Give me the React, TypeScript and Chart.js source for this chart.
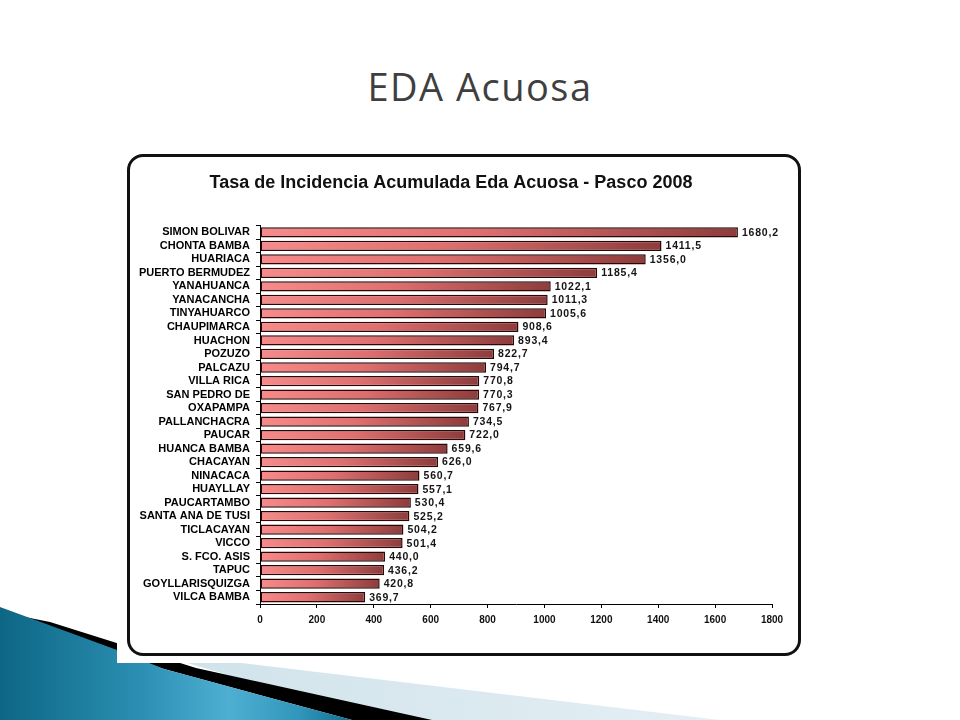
import React, { useEffect, useRef } from "react";
import { Chart, registerables } from "chart.js";

Chart.register(...registerables);

const slideTitle = "EDA Acuosa";
const chartTitle = "Tasa de Incidencia Acumulada Eda Acuosa - Pasco 2008";

const districts = [
  "SIMON BOLIVAR",
  "CHONTA BAMBA",
  "HUARIACA",
  "PUERTO BERMUDEZ",
  "YANAHUANCA",
  "YANACANCHA",
  "TINYAHUARCO",
  "CHAUPIMARCA",
  "HUACHON",
  "POZUZO",
  "PALCAZU",
  "VILLA RICA",
  "SAN PEDRO DE",
  "OXAPAMPA",
  "PALLANCHACRA",
  "PAUCAR",
  "HUANCA BAMBA",
  "CHACAYAN",
  "NINACACA",
  "HUAYLLAY",
  "PAUCARTAMBO",
  "SANTA ANA DE TUSI",
  "TICLACAYAN",
  "VICCO",
  "S. FCO. ASIS",
  "TAPUC",
  "GOYLLARISQUIZGA",
  "VILCA BAMBA",
];

const incidence = [
  1680.2, 1411.5, 1356.0, 1185.4, 1022.1, 1011.3, 1005.6, 908.6, 893.4, 822.7,
  794.7, 770.8, 770.3, 767.9, 734.5, 722.0, 659.6, 626.0, 560.7, 557.1, 530.4,
  525.2, 504.2, 501.4, 440.0, 436.2, 420.8, 369.7,
];

const xMin = 0;
const xMax = 1800;
const xStep = 200;

const fmt = (v: number) => v.toFixed(1).replace(".", ",");

const valueLabels = {
  id: "valueLabels",
  afterDatasetsDraw(chart: any) {
    const ctx = chart.ctx as CanvasRenderingContext2D;
    const meta = chart.getDatasetMeta(0);
    ctx.save();
    ctx.font = "bold 10.5px 'Liberation Sans', Arial, sans-serif";
    (ctx as any).letterSpacing = "0.8px";
    ctx.fillStyle = "#151515";
    ctx.textAlign = "left";
    ctx.textBaseline = "middle";
    meta.data.forEach((bar: any, i: number) => {
      ctx.fillText(fmt(incidence[i]), bar.x + 4, bar.y + 0.5);
    });
    ctx.restore();
  },
};

function BarChart() {
  const ref = useRef<HTMLCanvasElement | null>(null);
  useEffect(() => {
    if (!ref.current) return;
    const chart = new Chart(ref.current, {
      type: "bar",
      data: {
        labels: districts,
        datasets: [
          {
            data: incidence,
            backgroundColor: (c: any) => {
              const ch = c.chart;
              const xs = ch.scales && ch.scales.x;
              if (!xs || c.raw == null) return "#d86a6a";
              const x0 = xs.getPixelForValue(0);
              const x1 = xs.getPixelForValue(c.raw);
              if (!isFinite(x0) || !isFinite(x1) || x1 <= x0) return "#d86a6a";
              const g = ch.ctx.createLinearGradient(x0, 0, x1, 0);
              g.addColorStop(0, "#f78a8a");
              g.addColorStop(0.45, "#e07070");
              g.addColorStop(1, "#8e3c3c");
              return g;
            },
            borderColor: "#2a0808",
            borderWidth: 1.5,
            borderSkipped: false,
            barPercentage: 0.76,
            categoryPercentage: 1,
          },
        ],
      },
      options: {
        indexAxis: "y",
        animation: false,
        responsive: false,
        devicePixelRatio: 1,
        layout: { padding: { left: 0, right: 26, top: 0, bottom: 0 } },
        plugins: {
          legend: { display: false },
          tooltip: { enabled: false },
          title: {
            display: true,
            text: chartTitle,
            color: "#111",
            font: { family: "'Liberation Sans Narrow', 'Liberation Sans', Arial, sans-serif", size: 18, weight: "bold" },
            padding: { top: 15, bottom: 32 },
          },
        },
        scales: {
          x: {
            type: "linear",
            min: xMin,
            max: xMax,
            afterFit: (s: any) => {
              s.height = 49;
            },
            ticks: {
              stepSize: xStep,
              color: "#111",
              padding: 6,
              callback: (v: any) => String(v),
              font: { family: "'Liberation Sans', Arial, sans-serif", size: 10, weight: "bold" },
            },
            grid: { drawOnChartArea: false, tickLength: 4, color: "#000", lineWidth: 1 },
            border: { display: true, color: "#000", width: 1 },
          },
          y: {
            afterFit: (s: any) => {
              s.width = 130;
            },
            ticks: {
              autoSkip: false,
              color: "#000",
              padding: 6,
              font: { family: "'Liberation Sans', Arial, sans-serif", size: 11, weight: "bold" },
            },
            grid: { drawOnChartArea: false, tickLength: 4, color: "#000", lineWidth: 1, offset: true },
            border: { display: true, color: "#000", width: 1 },
          },
        },
      } as any,
      plugins: [valueLabels],
    });
    return () => chart.destroy();
  }, []);
  return <canvas ref={ref} width={668} height={496} style={{ display: "block", width: 668, height: 496 }} />;
}

export default function App() {
  return (
    <div style={{ position: "absolute", left: 0, top: 0, width: 960, height: 720, background: "#fff", overflow: "hidden" }}>
      <svg width={960} height={720} style={{ position: "absolute", left: 0, top: 0 }}>
        <defs>
          <linearGradient id="blueG" x1="0" y1="0" x2="1" y2="0">
            <stop offset="0" stopColor="#0d6684" />
            <stop offset="0.4" stopColor="#2b8fb3" />
            <stop offset="0.65" stopColor="#4eafd2" />
            <stop offset="0.85" stopColor="#3196bb" />
            <stop offset="1" stopColor="#0f6f90" />
          </linearGradient>
          <linearGradient id="lightG" x1="0" y1="0" x2="1" y2="0">
            <stop offset="0" stopColor="#cfe2ea" />
            <stop offset="1" stopColor="#e4eff4" />
          </linearGradient>
        </defs>
        <polygon points="150,652 720,720 380,720" fill="url(#lightG)" />
        <polygon points="50,622 196,668 432,720 352,720 164,669 0,612" fill="#000" />
        <polygon points="0,607 117,650 164,669 352,720 0,720" fill="url(#blueG)" />
      </svg>
      <div style={{ position: "absolute", left: 117, top: 140, width: 695, height: 523, background: "#fff" }} />
      <div
        style={{
          position: "absolute",
          left: 0,
          top: 67,
          width: 960,
          textAlign: "center",
          fontFamily: "'Open Sans', sans-serif",
          fontSize: 38,
          lineHeight: 1,
          letterSpacing: 1.5,
          color: "#3f3f3f",
        }}
      >
        {slideTitle}
      </div>
      <div
        style={{
          position: "absolute",
          left: 127,
          top: 154,
          width: 674,
          height: 502,
          border: "3px solid #111",
          borderRadius: 16,
          boxSizing: "border-box",
          background: "#fff",
        }}
      >
        <BarChart />
      </div>
    </div>
  );
}
